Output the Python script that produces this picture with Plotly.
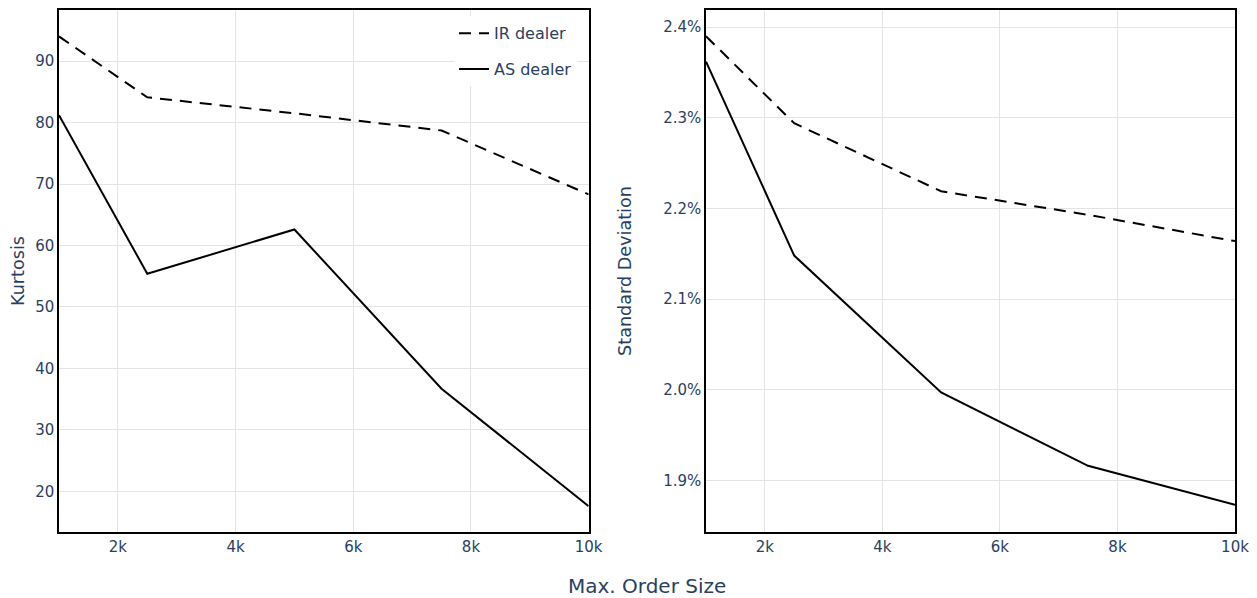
import plotly.graph_objects as go
from plotly.subplots import make_subplots

order_size = [1000, 2500, 5000, 7500, 10000]
kurt_ir = [94.0, 84.1, 81.5, 78.7, 68.3]
kurt_as = [81.2, 55.4, 62.6, 36.7, 17.6]
std_ir = [0.02390, 0.02294, 0.02219, 0.02193, 0.02164]
std_as = [0.02362, 0.02148, 0.01997, 0.01916, 0.01873]

FONT = "Verdana, DejaVu Sans, sans-serif"
FC = "#2a3f5f"
DASH = "12px,8px"

fig = make_subplots(rows=1, cols=2, horizontal_spacing=0.1)

fig.add_trace(go.Scatter(x=order_size, y=kurt_ir, mode="lines", name="IR dealer",
                         legendgroup="ir", line=dict(color="black", width=2, dash=DASH)), row=1, col=1)
fig.add_trace(go.Scatter(x=order_size, y=kurt_as, mode="lines", name="AS dealer",
                         legendgroup="as", line=dict(color="black", width=2)), row=1, col=1)
fig.add_trace(go.Scatter(x=order_size, y=std_ir, mode="lines", name="IR dealer", showlegend=False,
                         legendgroup="ir", line=dict(color="black", width=2, dash=DASH)), row=1, col=2)
fig.add_trace(go.Scatter(x=order_size, y=std_as, mode="lines", name="AS dealer", showlegend=False,
                         legendgroup="as", line=dict(color="black", width=2)), row=1, col=2)

axis_common = dict(showline=True, linecolor="black", linewidth=1.5, mirror=True,
                   showgrid=True, gridcolor="#e3e3e3", gridwidth=1, zeroline=False,
                   ticks="", tickfont=dict(size=15, color=FC, family=FONT))

fig.update_xaxes(**axis_common, range=[1000, 10000], dtick=2000, tick0=0)
fig.update_xaxes(domain=[0, 0.4504], row=1, col=1)
fig.update_xaxes(domain=[0.5502, 1], row=1, col=2)
fig.update_yaxes(**axis_common)
fig.update_yaxes(range=[13.4, 98.3], dtick=10, row=1, col=1,
                 title=dict(text="Kurtosis", font=dict(size=17.6, color=FC, family=FONT), standoff=8))
fig.update_yaxes(range=[0.01843, 0.02419], dtick=0.001, tickformat=".1%", row=1, col=2,
                 title=dict(text="Standard Deviation", font=dict(size=17.6, color=FC, family=FONT), standoff=27))

fig.add_annotation(text="Max. Order Size", xref="paper", yref="paper", x=0.5, y=-0.076,
                   xanchor="center", yanchor="top", showarrow=False,
                   font=dict(size=20, color=FC, family=FONT))

fig.update_layout(
    width=1249, height=590,
    template="plotly_white",
    paper_bgcolor="white", plot_bgcolor="white",
    margin=dict(l=51, r=22, t=0, b=66),
    font=dict(family=FONT, color=FC, size=15),
    legend=dict(x=0.4405, y=0.988, xanchor="right", yanchor="top",
                bgcolor="white", font=dict(size=16, color=FC, family=FONT),
                tracegroupgap=12),
)

fig.write_html("out.html")
